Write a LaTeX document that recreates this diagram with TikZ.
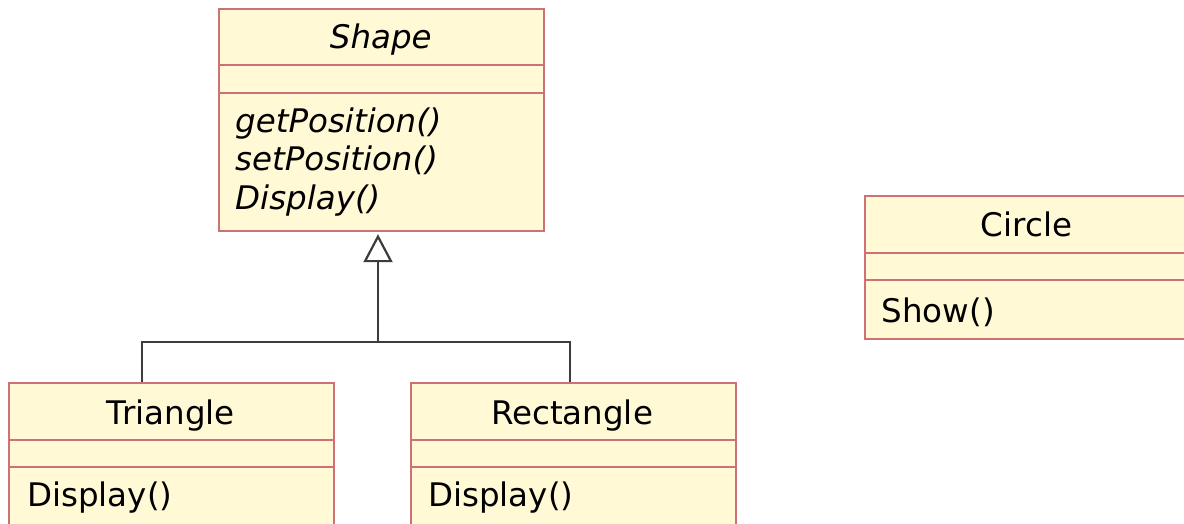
\documentclass[tikz,border=0pt]{standalone}
\usepackage{fontspec}
\setmainfont{DejaVu Sans}
\usetikzlibrary{arrows.meta}
\definecolor{boxfill}{RGB}{255,249,214}
\definecolor{boxline}{RGB}{206,112,118}
\definecolor{conn}{RGB}{60,60,60}
\begin{document}
\begin{tikzpicture}[x=1pt,y=-1pt,
  classbox/.style={draw=boxline, fill=boxfill, line width=2.2pt, inner sep=0pt, anchor=north west, minimum width=325pt},
  sep/.style={draw=boxline, line width=2.2pt},
  lbl/.style={font=\fontsize{32.5}{38}\selectfont, inner sep=0pt, anchor=base},
  ilbl/.style={font=\fontsize{32.5}{38}\selectfont\itshape, inner sep=0pt, anchor=base},
  mth/.style={lbl, anchor=base west},
  imth/.style={ilbl, anchor=base west},
  inh/.style={draw=conn, line width=2.2pt, shorten >=2pt, -{Triangle[open, length=28pt, width=29pt, line width=2.2pt]}},
  link/.style={draw=conn, line width=2.2pt}]
\useasboundingbox (0,0) rectangle (1184,524);
\clip (0,0) rectangle (1184,524);

% Shape
\node[classbox, minimum height=222pt] (shape) at (218,8) {};
\draw[sep] ([yshift=-57pt]shape.north west) -- ([yshift=-57pt]shape.north east);
\draw[sep] ([yshift=-85pt]shape.north west) -- ([yshift=-85pt]shape.north east);
\node[ilbl] (shapet) at (380.8,48.5) {Shape};
\node[imth] (shapem1) at (235,133) {getPosition()};
\node[imth] (shapem2) at (235,171) {setPosition()};
\node[imth] (shapem3) at (235,209) {Display()};

% Triangle
\node[classbox, minimum height=170pt] (tri) at (8,382) {};
\draw[sep] ([yshift=-58pt]tri.north west) -- ([yshift=-58pt]tri.north east);
\draw[sep] ([yshift=-85pt]tri.north west) -- ([yshift=-85pt]tri.north east);
\node[lbl] (trit) at (170.8,424) {Triangle};
\node[mth] (trim) at (27,506.5) {Display()};

% Rectangle
\node[classbox, minimum height=170pt] (rect) at (409.5,382) {};
\draw[sep] ([yshift=-58pt]rect.north west) -- ([yshift=-58pt]rect.north east);
\draw[sep] ([yshift=-85pt]rect.north west) -- ([yshift=-85pt]rect.north east);
\node[lbl] (rectt) at (572,424) {Rectangle};
\node[mth] (rectm) at (428,506.5) {Display()};

% Circle
\node[classbox, minimum height=143pt] (circ) at (864,195) {};
\draw[sep] ([yshift=-58pt]circ.north west) -- ([yshift=-58pt]circ.north east);
\draw[sep] ([yshift=-85pt]circ.north west) -- ([yshift=-85pt]circ.north east);
\node[lbl] (circt) at (1026.5,236) {Circle};
\node[mth] (circm) at (881.5,322) {Show()};

% Inheritance connectors
\coordinate (j) at (378,342);
\coordinate (tj) at (142,342);
\coordinate (rj) at (570,342);
\draw[link] (tri.north -| tj) -- (tj) -- (rj) -- (rect.north -| rj);
\draw[inh] (j) -- (shape.south -| j);
\end{tikzpicture}
\end{document}
